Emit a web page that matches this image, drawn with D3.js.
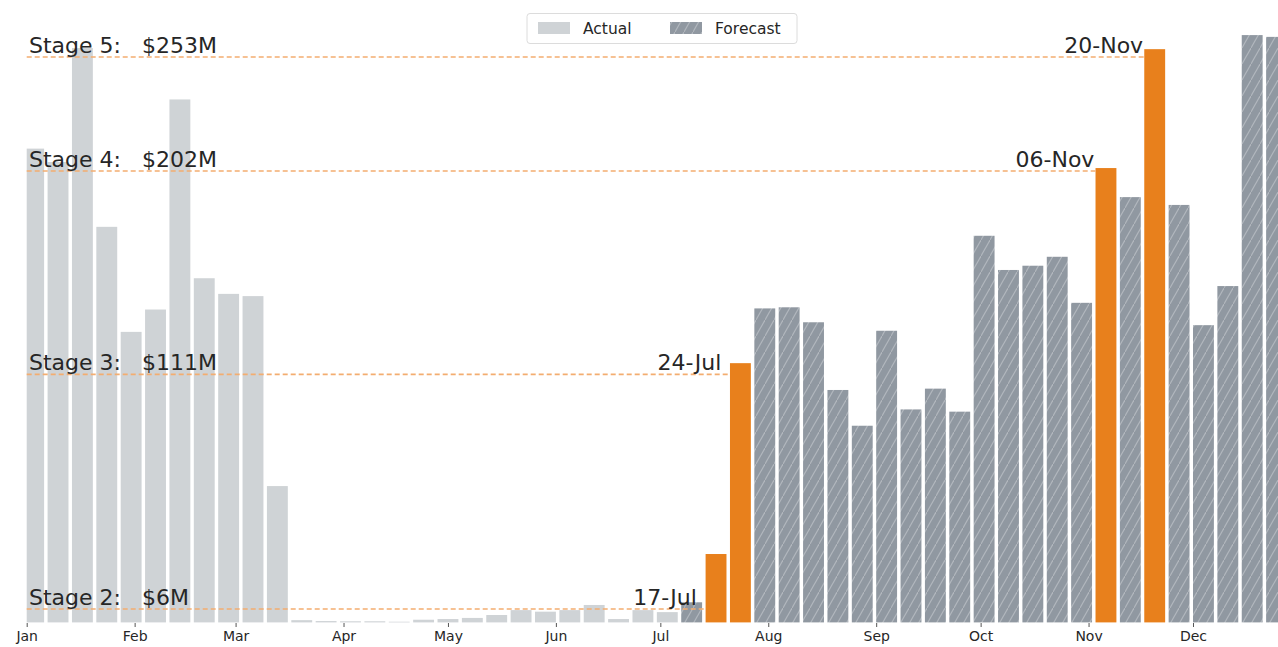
<!DOCTYPE html>
<html>
<head>
<meta charset="utf-8">
<script src="https://cdn.jsdelivr.net/npm/d3@7"></script>
<style>
  body { margin: 0; background: #fff; }
  svg { display: block; font-family: "DejaVu Sans", sans-serif; }
</style>
</head>
<body>
<div class="chartcontainer"></div>
<script>
// weekly dates (Fridays, 2020)
const weeks = [
  '2020-01-03','2020-01-10','2020-01-17','2020-01-24','2020-01-31',
  '2020-02-07','2020-02-14','2020-02-21','2020-02-28',
  '2020-03-06','2020-03-13','2020-03-20','2020-03-27',
  '2020-04-03','2020-04-10','2020-04-17','2020-04-24',
  '2020-05-01','2020-05-08','2020-05-15','2020-05-22','2020-05-29',
  '2020-06-05','2020-06-12','2020-06-19','2020-06-26',
  '2020-07-03','2020-07-10','2020-07-17','2020-07-24','2020-07-31',
  '2020-08-07','2020-08-14','2020-08-21','2020-08-28',
  '2020-09-04','2020-09-11','2020-09-18','2020-09-25',
  '2020-10-02','2020-10-09','2020-10-16','2020-10-23','2020-10-30',
  '2020-11-06','2020-11-13','2020-11-20','2020-11-27',
  '2020-12-04','2020-12-11','2020-12-18','2020-12-25'
]
// weekly revenue, $M
const actualValues = [212, 206, 257, 177, 130, 140, 234, 154, 147, 146, 61, 1, 0.6,
  0.5, 0.5, 0.3, 1.2, 1.5, 2, 3.3, 5.5, 4.8, 5.5, 7.8, 1.5, 5.5, 4.6]
const forecastValues = [9, 30.6, 116, 140.5, 141, 134.3, 104, 88, 130.5, 95.3, 104.6, 94.3,
  173, 157.7, 159.6, 163.6, 143, 203.3, 190.3, 256.5, 186.8, 133, 150.5, 262.8, 262]
const highlightWeeks = ['2020-07-17', '2020-07-24', '2020-11-06', '2020-11-20']

const stageNames = ['Stage 2', 'Stage 3', 'Stage 4', 'Stage 5']
const stageValues = [6, 111, 202, 253]
const stageDates = ['2020-07-17', '2020-07-24', '2020-11-06', '2020-11-20']
const stageDateLabels = ['17-Jul', '24-Jul', '06-Nov', '20-Nov']

const legendLabels = ['Actual', 'Forecast']

const w = 1278
const h = 647
const colActual = '#cfd3d6'
const colForecast = '#9098a1'
const colHighlight = '#e8801c'
const colStage = '#f3ad70'
const textCol = '#262626'

const parse = d3.utcParse('%Y-%m-%d')
const DAY = 864e5

let dataset = []
weeks.forEach((d, i) => {
  let isActual = i < actualValues.length
  dataset.push({
    date: parse(d),
    key: d,
    value: isActual ? actualValues[i] : forecastValues[i - actualValues.length],
    actual: isActual
  })
})

const x0 = 26.7
const pxDay = 3.4815
const xScale = d3.scaleUtc()
  .domain([parse('2020-01-01'), parse('2020-12-31')])
  .range([x0, x0 + 365 * pxDay])

const yScale = d3.scaleLinear()
  .domain([0, 278.5])
  .range([622.4, 0])

const svg = d3.select('.chartcontainer')
  .append('svg')
  .attr('width', w)
  .attr('height', h)

const defs = svg.append('defs')
const pat = defs.append('pattern')
  .attr('id', 'hatch')
  .attr('patternUnits', 'userSpaceOnUse')
  .attr('width', 9)
  .attr('height', 16)
pat.append('rect').attr('width', 9).attr('height', 16).attr('fill', colForecast)
pat.append('path')
  .attr('d', 'M-0.6,17 L9.6,-1')
  .attr('stroke', '#ffffff')
  .attr('stroke-opacity', 0.3)
  .attr('stroke-width', 1.1)

defs.append('clipPath').attr('id', 'plotclip')
  .append('rect')
  .attr('x', x0).attr('y', 0)
  .attr('width', w - x0).attr('height', h)

// bars
svg.append('g')
  .attr('clip-path', 'url(#plotclip)')
  .selectAll('rect')
  .data(dataset)
  .enter()
  .append('rect')
  .attr('x', d => xScale(new Date(+d.date - 3 * DAY)))
  .attr('y', d => yScale(d.value))
  .attr('width', d => xScale(new Date(+d.date + 3 * DAY)) - xScale(new Date(+d.date - 3 * DAY)))
  .attr('height', d => yScale(0) - yScale(d.value))
  .attr('fill', d => {
    if (highlightWeeks.includes(d.key)) return colHighlight
    return d.actual ? colActual : 'url(#hatch)'
  })

// stage lines + labels
stageNames.forEach((name, i) => {
  let yy = yScale(stageValues[i])
  let dt = parse(stageDates[i])
  let xEnd = xScale(new Date(+dt - 3 * DAY))
  svg.append('line')
    .attr('x1', x0)
    .attr('x2', xEnd)
    .attr('y1', yy)
    .attr('y2', yy)
    .attr('stroke', colStage)
    .attr('stroke-width', 1.6)
    .attr('stroke-dasharray', '5,3')

  svg.append('text')
    .text(name + ':\u00a0\u00a0\u00a0$' + stageValues[i] + 'M')
    .attr('x', 29)
    .attr('y', yy - 4)
    .attr('font-size', 22)
    .attr('fill', textCol)

  svg.append('text')
    .text(stageDateLabels[i])
    .attr('x', xScale(dt) - 51)
    .attr('y', yy - 4)
    .attr('text-anchor', 'middle')
    .attr('font-size', 22)
    .attr('fill', textCol)
})

// x axis, ticks only
const xAxis = d3.axisBottom(xScale)
  .ticks(d3.utcMonth.every(1))
  .tickFormat(d3.utcFormat('%b'))
  .tickSize(4)
  .tickPadding(4)

const gx = svg.append('g')
  .attr('transform', 'translate(0,' + 623 + ')')
  .call(xAxis)
gx.select('.domain').remove()
gx.selectAll('.tick line').attr('stroke', '#555')
gx.selectAll('.tick text')
  .attr('font-size', 14)
  .attr('font-family', '"DejaVu Sans", sans-serif')
  .attr('fill', textCol)

// legend
const lg = svg.append('g')
lg.append('rect')
  .attr('x', 527)
  .attr('y', 13.5)
  .attr('width', 270)
  .attr('height', 30)
  .attr('rx', 3)
  .attr('fill', '#fff')
  .attr('fill-opacity', 0.85)
  .attr('stroke', '#dcdcdc')
const legendFills = [colActual, 'url(#hatch)']
const legendX = [538, 670]
legendLabels.forEach((lab, i) => {
  lg.append('rect')
    .attr('x', legendX[i])
    .attr('y', 22)
    .attr('width', 32)
    .attr('height', 12)
    .attr('fill', legendFills[i])
  lg.append('text')
    .text(lab)
    .attr('x', legendX[i] + 45)
    .attr('y', 34)
    .attr('font-size', 15.5)
    .attr('fill', textCol)
})
</script>
</body>
</html>
